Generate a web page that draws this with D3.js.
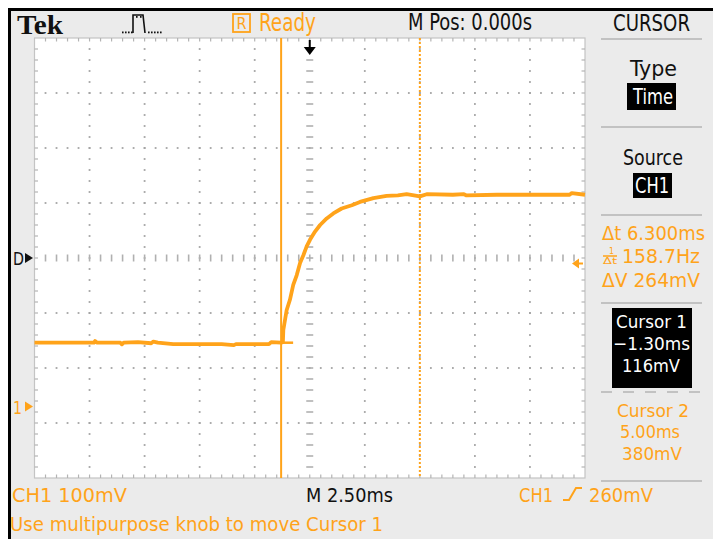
<!DOCTYPE html>
<html>
<head>
<meta charset="utf-8">
<script src="https://cdn.jsdelivr.net/npm/d3@7"></script>
<style>
  html, body { margin: 0; padding: 0; background: #ffffff; }
  svg { display: block; }
</style>
</head>
<body>
<svg id="scope" width="713" height="539"></svg>
<script>
// CH1 acquisition: time (ms, relative to trigger) and voltage (mV)
const timeMs = [
  -12.5, -11.0, -9.8, -9.75, -9.65, -8.6, -8.53, -8.45, -7.8, -7.2, -7.1, -6.9,
  -6.2, -5.0, -4.0, -3.45, -3.35, -3.0, -1.85, -1.75, -1.3, -1.22,
  -1.20, -1.05, -0.90, -0.75, -0.59, -0.44, -0.29, -0.14, 0.01, 0.24, 0.47,
  0.77, 1.07, 1.45, 1.91, 2.28, 2.89, 3.49, 4.0, 4.40, 5.0, 5.31, 6.5, 7.0,
  7.1, 8.5, 10.0, 11.8, 11.9, 12.5
];
const ch1mV = [
  116, 116, 116, 119, 116, 116, 113, 116, 117, 115, 118, 116,
  113.5, 113.5, 113.5, 111.5, 113.5, 113.5, 113.5, 117, 116, 117,
  139, 175, 194, 221, 239, 261, 275, 291, 303, 318, 330,
  342, 351, 360, 366, 372, 379, 383, 384, 386, 382, 386, 385, 386,
  384, 385, 385, 385, 388, 385
];

// Cursor readouts
const cursorLabels = ["Cursor 1", "Cursor 2"];
const cursorTimeMs = [-1.30, 5.00];
const cursorVoltMv = [116, 380];
const cursorTimeText = ["\u22121.30ms", "5.00ms"];
const cursorVoltText = ["116mV", "380mV"];

// Scope settings
const voltsPerDiv = 100;          // mV/div
const timePerDiv = 2.5;           // ms/div
const hDivs = 10, vDivs = 8;
const ch1CenterMv = 270;          // voltage at the centre graticule line
const triggerLevelMv = 260;
const triggerPosMs = 0;

// Header / footer / menu texts
const headerTexts = { brand: "Tek", state: "Ready", mpos: "M Pos: 0.000s", menu: "CURSOR" };
const menuTexts = { type: "Type", typeVal: "Time", source: "Source", sourceVal: "CH1" };
const deltaTexts = { dt: "\u0394t 6.300ms", freq: "158.7Hz", dv: "\u0394V 264mV" };
const footerTexts = { ch1: "CH1  100mV", time: "M 2.50ms", trigCh: "CH1", trigLvl: "260mV",
                      help: "Use multipurpose knob to move Cursor 1" };

const ORANGE = "#ffa31a";
const PANEL = "#ebebeb";
const LCD = "'Liberation Sans Narrow', 'DejaVu Sans Condensed', 'Arial Narrow', sans-serif";

const svg = d3.select("#scope");

// Graticule area
const plot = { left: 34.5, right: 585, top: 38, bottom: 478 };

const x = d3.scaleLinear()
  .domain([-timePerDiv * hDivs / 2, timePerDiv * hDivs / 2])
  .range([plot.left, plot.right]);
const y = d3.scaleLinear()
  .domain([ch1CenterMv - voltsPerDiv * vDivs / 2, ch1CenterMv + voltsPerDiv * vDivs / 2])
  .range([plot.bottom, plot.top]);

// Screen frame
svg.append("rect").attr("x", 8).attr("y", 8).attr("width", 705).attr("height", 531).attr("fill", PANEL);
svg.append("rect").attr("x", 8).attr("y", 8).attr("width", 705).attr("height", 3).attr("fill", "#000");
svg.append("rect").attr("x", 8).attr("y", 8).attr("width", 3).attr("height", 531).attr("fill", "#000");

// Graticule background
svg.append("rect")
  .attr("x", plot.left).attr("y", plot.top)
  .attr("width", plot.right - plot.left).attr("height", plot.bottom - plot.top)
  .attr("fill", "#ffffff").attr("stroke", "#c4c4c4").attr("stroke-width", 1.2);

const grid = svg.append("g");
const minorStep = (plot.right - plot.left) / (hDivs * 5);
const minorStepY = (plot.bottom - plot.top) / (vDivs * 5);
const xDivs = d3.range(1, hDivs).map(i => x.domain()[0] + i * timePerDiv);
const yDivs = d3.range(1, vDivs).map(i => y.domain()[0] + i * voltsPerDiv);
const yMinor = d3.range(0, vDivs * 5 + 1).map(j => plot.top + j * minorStepY);
const xMinor = d3.range(0, hDivs * 5 + 1).map(j => plot.left + j * minorStep);

// Dotted division lines
xDivs.filter(t => Math.abs(t - triggerPosMs) > 1e-9).forEach(t => {
  grid.selectAll(null).data(yMinor.slice(1, -1)).enter().append("rect")
    .attr("x", x(t) - 0.9).attr("y", d => d - 0.9).attr("width", 1.8).attr("height", 1.8)
    .attr("fill", "#a4a4a4");
});
yDivs.filter(v => Math.abs(v - ch1CenterMv) > 1e-9).forEach(v => {
  grid.selectAll(null).data(xMinor.slice(1, -1)).enter().append("rect")
    .attr("x", d => d - 0.9).attr("y", y(v) - 0.9).attr("width", 1.8).attr("height", 1.8)
    .attr("fill", "#a4a4a4");
});

// Centre cross with minor tick marks
const cx = x(0), cy = y(ch1CenterMv);
grid.selectAll(null).data(yMinor.slice(1, -1)).enter().append("line")
  .attr("x1", cx - 3.5).attr("x2", cx + 3.5).attr("y1", d => d).attr("y2", d => d)
  .attr("stroke", "#b0b0b0").attr("stroke-width", 1.6);
grid.selectAll(null).data(xMinor.slice(1, -1)).enter().append("line")
  .attr("y1", cy - 3.5).attr("y2", cy + 3.5).attr("x1", d => d).attr("x2", d => d)
  .attr("stroke", "#b0b0b0").attr("stroke-width", 1.6);

// Edge ticks
const edgeTick = 3.5;
grid.selectAll(null).data(xMinor.slice(1, -1)).enter().append("line")
  .attr("x1", d => d).attr("x2", d => d).attr("y1", plot.top).attr("y2", plot.top + edgeTick)
  .attr("stroke", "#b4b4b4").attr("stroke-width", 1.2);
grid.selectAll(null).data(xMinor.slice(1, -1)).enter().append("line")
  .attr("x1", d => d).attr("x2", d => d).attr("y1", plot.bottom).attr("y2", plot.bottom - edgeTick)
  .attr("stroke", "#b4b4b4").attr("stroke-width", 1.2);
grid.selectAll(null).data(yMinor.slice(1, -1)).enter().append("line")
  .attr("y1", d => d).attr("y2", d => d).attr("x1", plot.left).attr("x2", plot.left + edgeTick)
  .attr("stroke", "#b4b4b4").attr("stroke-width", 1.2);
grid.selectAll(null).data(yMinor.slice(1, -1)).enter().append("line")
  .attr("y1", d => d).attr("y2", d => d).attr("x1", plot.right).attr("x2", plot.right - edgeTick)
  .attr("stroke", "#b4b4b4").attr("stroke-width", 1.2);

// Cursors
svg.append("line")
  .attr("x1", x(cursorTimeMs[0])).attr("x2", x(cursorTimeMs[0]))
  .attr("y1", plot.top).attr("y2", plot.bottom)
  .attr("stroke", ORANGE).attr("stroke-width", 2);
svg.append("line")
  .attr("x1", x(cursorTimeMs[1])).attr("x2", x(cursorTimeMs[1]))
  .attr("y1", plot.top).attr("y2", plot.bottom)
  .attr("stroke", ORANGE).attr("stroke-width", 2).attr("stroke-dasharray", "2,2");

// Waveform
const samples = timeMs.map((t, i) => [t, ch1mV[i]]);
svg.append("path")
  .datum(samples)
  .attr("fill", "none")
  .attr("stroke", ORANGE)
  .attr("stroke-width", 3.8)
  .attr("stroke-linejoin", "round")
  .attr("d", d3.line().x(d => x(d[0])).y(d => y(d[1])));
// Cursor 1 crosshair stub on the waveform
svg.append("line")
  .attr("x1", x(cursorTimeMs[0])).attr("x2", x(cursorTimeMs[0]) + 12)
  .attr("y1", y(cursorVoltMv[0])).attr("y2", y(cursorVoltMv[0]))
  .attr("stroke", ORANGE).attr("stroke-width", 2.5);

// Trigger position marker (top)
const tp = x(triggerPosMs);
svg.append("line").attr("x1", tp).attr("x2", tp).attr("y1", 40).attr("y2", 49)
  .attr("stroke", "#000").attr("stroke-width", 2);
svg.append("path").attr("d", `M${tp - 6},47 L${tp + 6},47 L${tp},55 Z`).attr("fill", "#000");

// Trigger level marker (right)
const tl = y(triggerLevelMv);
svg.append("path").attr("d", `M${plot.right - 13},${tl} L${plot.right - 6},${tl - 5} L${plot.right - 6},${tl + 5} Z`)
  .attr("fill", ORANGE);
svg.append("line").attr("x1", plot.right - 7).attr("x2", plot.right - 2).attr("y1", tl).attr("y2", tl)
  .attr("stroke", ORANGE).attr("stroke-width", 2);

// Generic text helper
function label(g, s, xPos, yPos, opt) {
  const t = g.append("text")
    .attr("x", xPos).attr("y", yPos)
    .attr("font-family", opt.family || LCD)
    .attr("font-size", opt.size || 20)
    .attr("font-weight", opt.weight || "normal")
    .attr("fill", opt.color || "#111")
    .attr("text-anchor", opt.anchor || "start")
    .text(s);
  if (opt.width) t.attr("textLength", opt.width).attr("lengthAdjust", "spacingAndGlyphs");
  return t;
}

// Ground / reference markers (left)
const gy = y(0);
label(svg, "D", 13, cy + 7, { size: 18, color: "#111", width: 11 });
svg.append("path").attr("d", `M25,${cy - 5} L33,${cy} L25,${cy + 5} Z`).attr("fill", "#111");
label(svg, "1", 13, gy + 7, { size: 18, color: ORANGE, width: 9 });
svg.append("path").attr("d", `M25,${gy - 5} L33,${gy} L25,${gy + 5} Z`).attr("fill", ORANGE);

// Header
const head = svg.append("g");
label(head, headerTexts.brand, 17, 34, { family: "'Liberation Serif', 'DejaVu Serif', serif", size: 28, weight: "bold", color: "#111", width: 46 });
// Acquisition icon
head.append("path")
  .attr("d", "M133,33 L133,15 L143,15 L145,33")
  .attr("fill", "none").attr("stroke", "#111").attr("stroke-width", 1.6);
head.selectAll(null).data([122, 125, 128, 131, 136, 140, 148, 151, 154, 157, 160]).enter().append("rect")
  .attr("x", d => d).attr("y", d => (d > 133 && d < 143) ? 16 : 31.5)
  .attr("width", 1.6).attr("height", 1.8).attr("fill", "#111");
// Run state
head.append("rect").attr("x", 233).attr("y", 14).attr("width", 17).attr("height", 18)
  .attr("fill", "none").attr("stroke", ORANGE).attr("stroke-width", 1.8);
label(head, "R", 236.5, 29, { size: 16, color: ORANGE, width: 10 });
label(head, headerTexts.state, 259, 31, { size: 24, color: ORANGE, width: 57 });
label(head, headerTexts.mpos, 408, 30, { size: 23, color: "#111", width: 124 });
label(head, headerTexts.menu, 613, 31, { size: 23, color: "#111", width: 77 });

// Menu panel
const menu = svg.append("g");
[39, 127, 215, 303, 481].forEach(yy => {
  menu.append("line").attr("x1", 601).attr("x2", 702).attr("y1", yy).attr("y2", yy)
    .attr("stroke", "#c2c2c2").attr("stroke-width", 2);
});
menu.append("line").attr("x1", 601).attr("x2", 702).attr("y1", 392).attr("y2", 392)
  .attr("stroke", "#c2c2c2").attr("stroke-width", 2).attr("stroke-dasharray", "11,11");

label(menu, menuTexts.type, 630, 76, { size: 21, color: "#111", width: 47 });
menu.append("rect").attr("x", 627).attr("y", 83).attr("width", 49).attr("height", 27).attr("fill", "#000");
label(menu, menuTexts.typeVal, 633, 104, { size: 21, color: "#fff", width: 40 });
label(menu, menuTexts.source, 623, 165, { size: 21, color: "#111", width: 60 });
menu.append("rect").attr("x", 633).attr("y", 173).attr("width", 39).attr("height", 25).attr("fill", "#000");
label(menu, menuTexts.sourceVal, 635, 193, { size: 21, color: "#fff", width: 34 });

label(menu, deltaTexts.dt, 602, 240, { size: 19, color: ORANGE, width: 103 });
// 1/Δt fraction
label(menu, "1", 609, 254, { size: 9, color: ORANGE, width: 5 });
menu.append("line").attr("x1", 603).attr("x2", 617).attr("y1", 256).attr("y2", 256)
  .attr("stroke", ORANGE).attr("stroke-width", 1.5);
label(menu, "\u0394t", 603, 264, { size: 9, color: ORANGE, width: 14 });
label(menu, deltaTexts.freq, 622, 263, { size: 19, color: ORANGE, width: 78 });
label(menu, deltaTexts.dv, 602, 287, { size: 19, color: ORANGE, width: 98 });

// Cursor 1 (selected) and Cursor 2 readouts
menu.append("rect").attr("x", 612).attr("y", 308).attr("width", 80).attr("height", 80).attr("fill", "#000");
label(menu, cursorLabels[0], 616, 328, { size: 18, color: "#fff", width: 71 });
label(menu, cursorTimeText[0], 613, 350, { size: 18, color: "#fff", width: 77 });
label(menu, cursorVoltText[0], 622, 372, { size: 18, color: "#fff", width: 58 });
label(menu, cursorLabels[1], 617, 417, { size: 18, color: ORANGE, width: 72 });
label(menu, cursorTimeText[1], 620, 438, { size: 18, color: ORANGE, width: 60 });
label(menu, cursorVoltText[1], 622, 460, { size: 18, color: ORANGE, width: 60 });

// Footer
const foot = svg.append("g");
label(foot, footerTexts.ch1, 12, 502, { size: 20, color: ORANGE, width: 115 });
label(foot, footerTexts.time, 306, 502, { size: 20, color: "#111", width: 87 });
label(foot, footerTexts.trigCh, 519, 502, { size: 20, color: ORANGE, width: 34 });
foot.append("path").attr("d", "M563,500 L569,500 L576,488 L582,488")
  .attr("fill", "none").attr("stroke", ORANGE).attr("stroke-width", 2);
label(foot, footerTexts.trigLvl, 589, 502, { size: 20, color: ORANGE, width: 64 });
label(foot, footerTexts.help, 10, 531, { size: 20, color: ORANGE, width: 373 });
</script>
</body>
</html>
